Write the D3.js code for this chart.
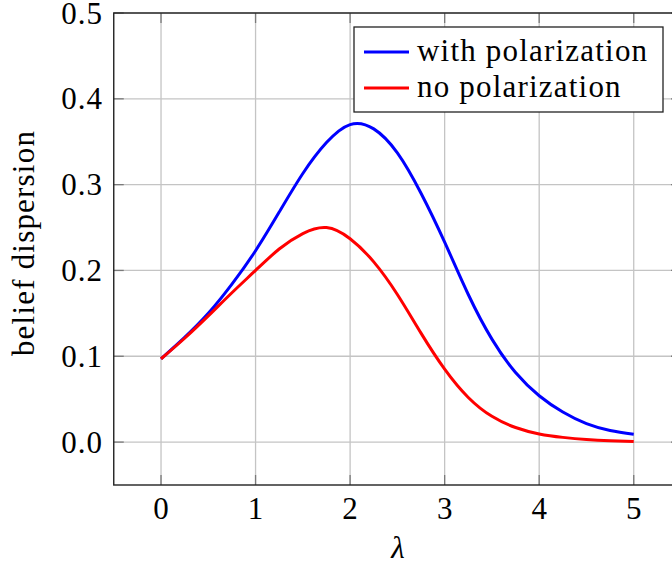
<!DOCTYPE html>
<html><head><meta charset="utf-8">
<script src="https://cdn.jsdelivr.net/npm/d3@7"></script>
<style>body{margin:0;background:#fff}svg{display:block}</style>
</head><body>
<script>
const lambda = [0,0.25,0.5,0.75,1,1.25,1.5,1.75,2,2.25,2.5,2.75,3,3.25,3.5,3.75,4,4.25,4.5,4.75,5];
const withPol = [0.097,0.122,0.150,0.184,0.223,0.268,0.313,0.349,0.370,0.365,0.337,0.290,0.233,0.172,0.120,0.081,0.054,0.035,0.0215,0.0135,0.0092];
const noPol   = [0.097,0.121,0.147,0.174,0.200,0.225,0.243,0.250,0.237,0.210,0.172,0.127,0.085,0.052,0.030,0.017,0.0095,0.0055,0.003,0.0016,0.0008];
const xTicks = [0,1,2,3,4,5];
const yTicks = [0,0.1,0.2,0.3,0.4,0.5];
const seriesNames = ["with polarization","no polarization"];
const seriesColors = ["#0000ff","#ff0000"];

const FONT = "Liberation Serif";
const FS = 31;
const W=672,H=565;
const svg=d3.select("body").append("svg").attr("width",W).attr("height",H);
const x=d3.scaleLinear().domain([-0.5,5.5]).range([113.75,681]);
const y=d3.scaleLinear().domain([-0.05,0.5]).range([485,13]);
const x0=x.range()[0],x1=x.range()[1],y0=y.range()[0],y1=y.range()[1];

// grid
svg.append("g").selectAll("line").data(xTicks).join("line")
  .attr("x1",d=>x(d)).attr("x2",d=>x(d)).attr("y1",y1).attr("y2",y0)
  .attr("stroke","#c4c4c4").attr("stroke-width",1.3);
svg.append("g").selectAll("line").data(yTicks).join("line")
  .attr("x1",x0).attr("x2",x1).attr("y1",d=>y(d)).attr("y2",d=>y(d))
  .attr("stroke","#c4c4c4").attr("stroke-width",1.3);

// ticks (inward, all sides)
const tl=10;
const tg=svg.append("g").attr("stroke","#7a7a7a").attr("stroke-width",1.3);
xTicks.forEach(d=>{
  tg.append("line").attr("x1",x(d)).attr("x2",x(d)).attr("y1",y0).attr("y2",y0-tl);
  tg.append("line").attr("x1",x(d)).attr("x2",x(d)).attr("y1",y1).attr("y2",y1+tl);
});
yTicks.forEach(d=>{
  tg.append("line").attr("x1",x0).attr("x2",x0+tl).attr("y1",y(d)).attr("y2",y(d));
  tg.append("line").attr("x1",x1).attr("x2",x1-tl).attr("y1",y(d)).attr("y2",y(d));
});

// curves
const series=[withPol,noPol];
const line=d3.line().x((d,i)=>x(lambda[i])).y(d=>y(d)).curve(d3.curveNatural);
series.forEach((s,k)=>{
  svg.append("path").datum(s).attr("d",line).attr("fill","none")
    .attr("stroke",seriesColors[k]).attr("stroke-width",3).attr("stroke-linejoin","round");
});

// frame
svg.append("rect").attr("x",x0).attr("y",y1).attr("width",x1-x0).attr("height",y0-y1)
  .attr("fill","none").attr("stroke","#222").attr("stroke-width",1.4);

// tick labels
svg.append("g").selectAll("text").data(xTicks).join("text")
  .attr("x",d=>x(d)).attr("y",519).attr("text-anchor","middle")
  .attr("font-family",FONT).attr("font-size",FS).text(d=>d3.format("d")(d));
svg.append("g").selectAll("text").data(yTicks).join("text")
  .attr("x",103).attr("y",d=>y(d)+10.5).attr("text-anchor","end")
  .attr("font-family",FONT).attr("font-size",FS).attr("letter-spacing",1).text(d=>d3.format(".1f")(d));

// axis labels
svg.append("text").attr("x",398).attr("y",558).attr("text-anchor","middle")
  .attr("font-family",FONT).attr("font-size",FS).attr("font-style","italic").text("λ");
svg.append("text").attr("transform","translate(34,243) rotate(-90)").attr("text-anchor","middle")
  .attr("font-family",FONT).attr("font-size",FS).attr("letter-spacing",1.2).text("belief dispersion");

// legend
const lg=svg.append("g");
lg.append("rect").attr("x",354).attr("y",27).attr("width",309).attr("height",85)
  .attr("fill","#fff").attr("stroke","#222").attr("stroke-width",1.3);
seriesNames.forEach((n,k)=>{
  const yy=52+k*36;
  lg.append("line").attr("x1",364).attr("x2",409).attr("y1",yy).attr("y2",yy)
    .attr("stroke",seriesColors[k]).attr("stroke-width",3);
  lg.append("text").attr("x",417).attr("y",yy+9).attr("font-family",FONT).attr("font-size",FS)
    .attr("letter-spacing",1.2).text(n);
});
</script>
</body></html>
